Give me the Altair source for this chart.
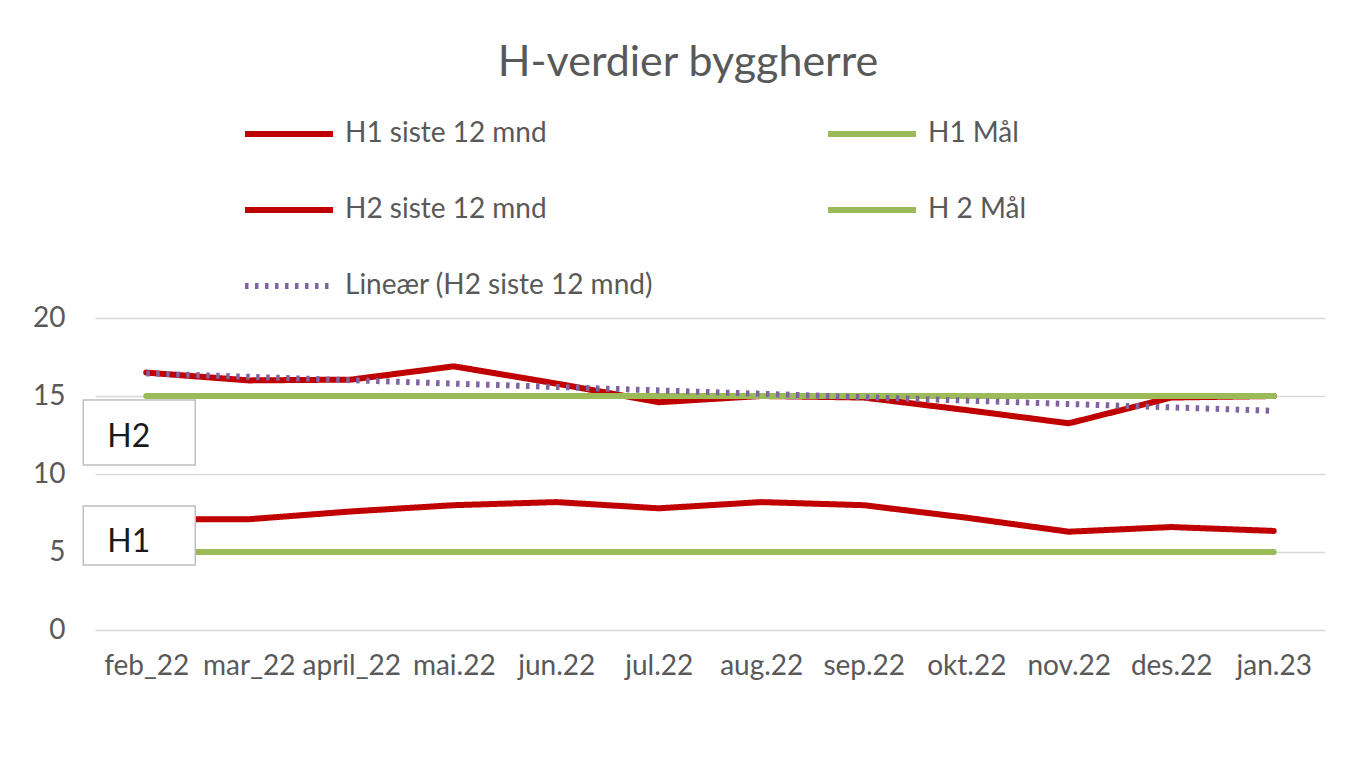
import altair as alt
import pandas as pd

# ---- data ----
months = ["feb_22", "mar_22", "april_22", "mai.22", "jun.22", "jul.22",
          "aug.22", "sep.22", "okt.22", "nov.22", "des.22", "jan.23"]
h1_siste = [7.1, 7.1, 7.6, 8.0, 8.2, 7.8, 8.2, 8.0, 7.2, 6.3, 6.6, 6.35]
h2_siste = [16.5, 16.0, 16.05, 16.9, 15.8, 14.6, 15.0, 14.9, 14.1, 13.25, 14.9, 15.0]
h1_maal = [5, 5, 5, 5, 5, 5, 5, 5, 5, 5, 5, 5]
h2_maal = [15, 15, 15, 15, 15, 15, 15, 15, 15, 15, 15, 15]

# legend order (the legend grid fills column by column)
series_names = ["H1 siste 12 mnd", "H2 siste 12 mnd", "Lineær (H2 siste 12 mnd)",
                "H1 Mål", "H 2 Mål"]
series_colors = ["#C00000", "#C00000", "#8064A2", "#9BBB59", "#9BBB59"]
series_dash = [[1, 0], [1, 0], [3.5, 6.5], [1, 0], [1, 0]]
series_width = [6, 6, 3, 6, 6]
y_ticks = [0, 5, 10, 15, 20]

box_labels = ["H2", "H1"]
box_top = [14.74, 7.95]
box_bottom = [10.58, 4.17]
box_text_y = [12.4, 5.67]

H1_S, H2_S, TREND, H1_M, H2_M = series_names

# ---- tables ----
rows = []
for name, vals in [(H1_S, h1_siste), (H2_S, h2_siste), (H1_M, h1_maal), (H2_M, h2_maal)]:
    for i, (m, v) in enumerate(zip(months, vals)):
        rows.append({"month": m, "i": i, "series": name, "value": v})
df = pd.DataFrame(rows)
idx_df = pd.DataFrame({"i": list(range(len(months))), "month": months})
box_df = pd.DataFrame({"label": box_labels, "top": box_top, "bottom": box_bottom,
                       "ty": box_text_y, "month": [months[0]] * len(box_labels)})

FONT = "Lato"
GREY = "#595959"

x_enc = alt.X("month:O", sort=months,
              scale=alt.Scale(type="point", padding=0.5),
              axis=alt.Axis(title=None, labelAngle=0, ticks=False, domain=False,
                            labelFont=FONT, labelFontSize=28, labelColor=GREY,
                            labelPadding=22, grid=False))
y_enc = alt.Y("value:Q", scale=alt.Scale(domain=[0, 20]),
              axis=alt.Axis(title=None, values=y_ticks, ticks=False, domain=False,
                            labelFont=FONT, labelFontSize=28, labelColor=GREY,
                            labelPadding=30, grid=True, gridColor="#D9D9D9",
                            gridWidth=1.5))

color_enc = alt.Color("series:N",
                      scale=alt.Scale(domain=series_names, range=series_colors),
                      legend=alt.Legend(orient="none", legendX=147, legendY=-231,
                                        columns=2, columnPadding=162, rowPadding=15,
                                        symbolType="stroke", symbolSize=7744,
                                        labelFont=FONT, labelFontSize=28,
                                        labelColor=GREY, labelLimit=700,
                                        labelOffset=9, title=None, padding=0))
dash_enc = alt.StrokeDash("series:N",
                          scale=alt.Scale(domain=series_names, range=series_dash))
width_enc = alt.StrokeWidth("series:N",
                            scale=alt.Scale(domain=series_names, range=series_width))

base = alt.Chart(df)

red = base.transform_filter(
    alt.FieldOneOfPredicate(field="series", oneOf=[H1_S, H2_S])
).mark_line(strokeCap="round", strokeJoin="round").encode(
    x=x_enc, y=y_enc, color=color_enc, strokeDash=dash_enc, strokeWidth=width_enc,
    detail="series:N")

green = base.transform_filter(
    alt.FieldOneOfPredicate(field="series", oneOf=[H1_M, H2_M])
).mark_line(strokeCap="round").encode(
    x=x_enc, y=y_enc, color=color_enc, strokeDash=dash_enc, strokeWidth=width_enc,
    detail="series:N")

trend = base.transform_filter(
    alt.datum.series == H2_S
).transform_regression(
    "i", "value", method="linear", extent=[0, len(months) - 1]
).transform_lookup(
    lookup="i", from_=alt.LookupData(data=idx_df, key="i", fields=["month"])
).transform_calculate(
    series=f"'{TREND}'"
).mark_line(strokeCap="butt").encode(
    x=x_enc, y=y_enc, color=color_enc, strokeDash=dash_enc, strokeWidth=width_enc)

boxes = alt.Chart(box_df).mark_bar(width=112, xOffset=-7, fill="white",
                                   stroke="#BFBFBF", strokeWidth=1.5).encode(
    x=x_enc, y=alt.Y("top:Q", scale=alt.Scale(domain=[0, 20])), y2="bottom:Q")

labels = alt.Chart(box_df).mark_text(align="left", baseline="middle", dx=-39,
                                     font=FONT, fontSize=32, color="#1a1a1a").encode(
    x=x_enc, y=alt.Y("ty:Q", scale=alt.Scale(domain=[0, 20])), text="label:N")

chart = alt.layer(red, green, trend, boxes, labels).properties(
    width=1230, height=312,
    padding={"left": 87, "top": 310, "right": 12, "bottom": 120},
    autosize=alt.AutoSizeParams(type="none"),
    title=alt.TitleParams("H-verdier byggherre", font=FONT, fontSize=43,
                          color=GREY, fontWeight="normal", anchor="middle",
                          offset=2, dx=-22),
).configure(background="white").configure_view(stroke=None)

chart.save("out.html", embed_options={"renderer": "svg", "actions": False})
